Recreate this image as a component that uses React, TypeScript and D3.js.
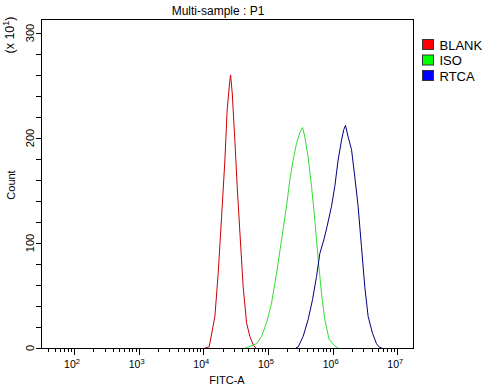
import React from "react";
import * as d3 from "d3";

// FITC-A values stored as log10 exponents, counts in units of x10
const blankLog = [4.02, 4.091, 4.179, 4.23, 4.283, 4.334, 4.369, 4.411, 4.422, 4.447, 4.488, 4.524, 4.566, 4.617, 4.669, 4.72, 4.771, 4.813];
const blankCount = [0, 1, 30, 71, 125, 179, 227, 255, 260, 243, 198, 154, 110, 58, 24, 11, 3, 0];

const isoLog = [4.65, 4.694, 4.824, 4.901, 4.978, 5.056, 5.133, 5.21, 5.287, 5.338, 5.389, 5.442, 5.493, 5.535, 5.57, 5.621, 5.674, 5.725, 5.776, 5.828, 5.879, 5.946, 6.034, 6.085];
const isoCount = [0, 1, 4, 11, 24, 43, 71, 103, 135, 160, 179, 195, 205, 210, 201, 182, 154, 122, 85, 52, 27, 8, 2, 0];

const rtcaLog = [5.43, 5.467, 5.544, 5.621, 5.689, 5.751, 5.802, 5.864, 5.915, 5.983, 6.034, 6.085, 6.138, 6.173, 6.199, 6.24, 6.292, 6.343, 6.394, 6.447, 6.498, 6.549, 6.617, 6.679, 6.719, 6.76];
const rtcaCount = [0, 1, 11, 27, 46, 68, 90, 103, 116, 135, 154, 179, 198, 208, 212, 201, 189, 163, 135, 96, 58, 30, 14, 4, 1, 0];

const seriesNames = ["BLANK", "ISO", "RTCA"];
const lineColors = ["#c80000", "#33dd33", "#000080"];
const legendColors = ["#ff0000", "#00ff00", "#0000ff"];

const yMajorTicks = [0, 100, 200, 300];
const xMajorExponents = [2, 3, 4, 5, 6, 7];

const title = "Multi-sample : P1";
const xTitle = "FITC-A";
const yTitle = "Count";

export default function App() {
  const left = 41, right = 413, top = 19, bottom = 348;
  const x = d3.scaleLog().domain([Math.pow(10, 1.49), Math.pow(10, 7.243)]).range([left, right]);
  const y = d3.scaleLinear().domain([0, 313.3]).range([bottom, top]);

  const series = [
    blankLog.map((v, i) => [Math.pow(10, v), blankCount[i]] as [number, number]),
    isoLog.map((v, i) => [Math.pow(10, v), isoCount[i]] as [number, number]),
    rtcaLog.map((v, i) => [Math.pow(10, v), rtcaCount[i]] as [number, number]),
  ];
  const line = d3.line<[number, number]>().x(d => x(d[0])).y(d => y(d[1]));

  const [d0, d1] = x.domain();
  const xMinor: number[] = [];
  for (let e = 1; e <= 7; e++) {
    for (let m = 2; m <= 9; m++) {
      const v = m * Math.pow(10, e);
      if (v >= d0 && v <= d1) xMinor.push(v);
    }
  }
  const yMinor = d3.range(0, 301, 20);
  const font = "'Liberation Sans', Arial, sans-serif";

  return (
    <svg width={504} height={387} style={{ position: "absolute", left: 0, top: 0, background: "#fff" }} fontFamily={font}>
      <rect x={0} y={0} width={504} height={387} fill="#fff" />
      <text x={218} y={15} fontSize={12} textAnchor="middle">{title}</text>
      {series.map((s, i) => (
        <path key={i} d={line(s) || ""} fill="none" stroke={lineColors[i]} strokeWidth={1} />
      ))}
      <rect x={left + 0.5} y={top + 0.5} width={right - left} height={bottom - top} fill="none" stroke="#000" strokeWidth={1} />
      {yMinor.map(v => (
        <line key={"ym" + v} x1={left - 5} x2={left} y1={Math.round(y(v)) + 0.5} y2={Math.round(y(v)) + 0.5} stroke="#000" />
      ))}
      {yMajorTicks.map(v => (
        <text key={"yl" + v} transform={`translate(${34},${y(v)}) rotate(-90)`} fontSize={11} textAnchor="middle">{v}</text>
      ))}
      {xMinor.map(v => (
        <line key={"xm" + v} x1={Math.round(x(v)) + 0.5} x2={Math.round(x(v)) + 0.5} y1={bottom} y2={bottom + 4} stroke="#000" />
      ))}
      {xMajorExponents.map(e => (
        <g key={"xM" + e}>
          <line x1={Math.round(x(Math.pow(10, e))) + 0.5} x2={Math.round(x(Math.pow(10, e))) + 0.5} y1={bottom} y2={bottom + 7} stroke="#000" />
          <text x={x(Math.pow(10, e)) - 2} y={368} fontSize={10.5} textAnchor="middle">
            10<tspan dy={-4} fontSize={7.5}>{e}</tspan>
          </text>
        </g>
      ))}
      <text x={227} y={384} fontSize={11} textAnchor="middle">{xTitle}</text>
      <text transform="translate(15,185) rotate(-90)" fontSize={11} textAnchor="middle">{yTitle}</text>
      <text transform="translate(14,35) rotate(-90)" fontSize={12.5} textAnchor="middle">
        (x 10<tspan dy={-5} fontSize={9}>1</tspan><tspan dy={5}>)</tspan>
      </text>
      {seriesNames.map((n, i) => (
        <g key={n} transform={`translate(422.5,${39.5 + i * 15.5})`}>
          <rect x={0} y={0} width={11} height={10} fill={legendColors[i]} stroke="#333" />
          <text x={17} y={10} fontSize={13}>{n}</text>
        </g>
      ))}
    </svg>
  );
}
